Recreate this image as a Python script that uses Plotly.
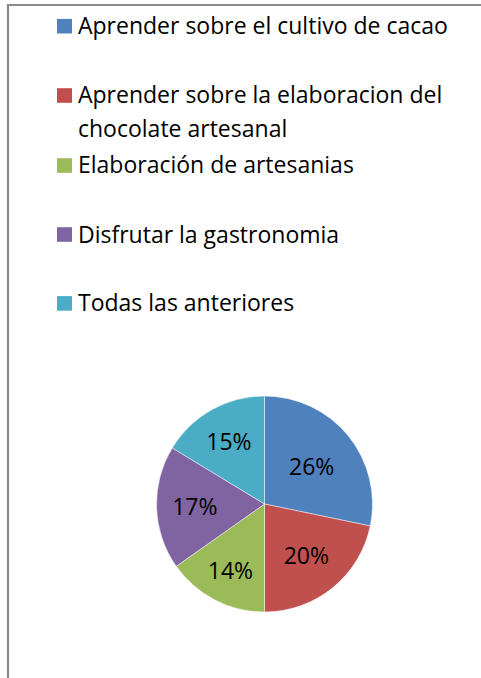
import plotly.graph_objects as go

categories = [
    "Aprender sobre el cultivo de cacao",
    "Aprender sobre la elaboracion del chocolate artesanal",
    "Elaboración de artesanias",
    "Disfrutar la gastronomia",
    "Todas las anteriores",
]
values = [26, 20, 14, 17, 15]
pct_labels = ["26%", "20%", "14%", "17%", "15%"]
colors = ["#4F81BD", "#C0504D", "#9BBB59", "#8064A2", "#4BACC6"]

W, H = 481, 678
FONT = "Open Sans"

def px(x):
    return x / W

def py(y):
    return 1 - y / H

fig = go.Figure()
fig.add_trace(go.Pie(
    values=values,
    labels=categories,
    text=pct_labels,
    textinfo="text",
    textposition="inside",
    insidetextorientation="horizontal",
    textfont=dict(family=FONT, size=23, color="black"),
    marker=dict(colors=colors, line=dict(color="rgba(255,255,255,0.6)", width=0.8)),
    sort=False,
    direction="clockwise",
    rotation=0,
    showlegend=False,
    domain=dict(x=[px(156.5), px(372.5)], y=[py(612), py(396)]),
))

shapes = []
annotations = []
# chart border (only top and left edges fall inside the picture)
shapes.append(dict(type="path", xref="paper", yref="paper",
                   path="M {:.5f},{:.5f} L {:.5f},{:.5f} L {:.5f},{:.5f}".format(
                       px(8), 0.0, px(8), py(5), 1.0, py(5)),
                   line=dict(color="#8A8A8A", width=2.2), fillcolor="rgba(0,0,0,0)"))

# manual legend
centers = [26.2, 95.5, 165.5, 234.5, 303.4]
wrap = {1: ("Aprender sobre la elaboracion del", "chocolate artesanal")}
for i, (cat, col, cy) in enumerate(zip(categories, colors, centers)):
    shapes.append(dict(type="rect", xref="paper", yref="paper",
                       x0=px(57), x1=px(72), y0=py(cy + 7.3), y1=py(cy - 7.3),
                       fillcolor=col, line=dict(width=0)))
    lines = wrap.get(i, (cat,))
    for j, ln in enumerate(lines):
        annotations.append(dict(text=ln, xref="paper", yref="paper", x=px(76), y=py(cy - 1 + 33 * j),
                                xanchor="left", yanchor="middle", showarrow=False,
                                font=dict(family=FONT, size=23, color="black")))

fig.update_layout(
    width=W, height=H,
    margin=dict(l=0, r=0, t=0, b=0),
    paper_bgcolor="white",
    plot_bgcolor="white",
    shapes=shapes,
    annotations=annotations,
)

fig.write_html(
    "out.html",
    config={"displayModeBar": False},
    post_script=(
        "document.documentElement.style.margin='0';"
        "document.body.style.margin='0';"
        "document.body.style.overflow='hidden';"
        "window.scrollTo(0,0);"
    ),
)
